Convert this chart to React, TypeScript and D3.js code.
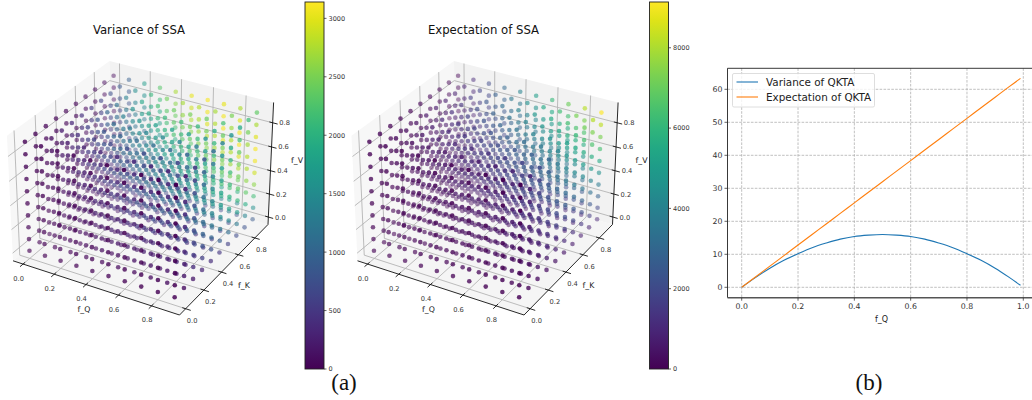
import React from "react";
import * as d3 from "d3";

// lattice of the two scatter cubes
const latticeQ = [0, 0.1, 0.2, 0.3, 0.4, 0.5, 0.6, 0.7, 0.8, 0.9];
const latticeK = [0, 0.1, 0.2, 0.3, 0.4, 0.5, 0.6, 0.7, 0.8, 0.9];
const latticeV = [0, 0.1, 0.2, 0.3, 0.4, 0.5, 0.6, 0.7, 0.8, 0.9];
const cubeTicks = [0, 0.2, 0.4, 0.6, 0.8];

// The cubes hold 1000 dots each, too dense to read one by one. Colours are read
// on the back wall (f_K = 0.9) and along f_K, then combined per dot.
// variance on the back wall: rows f_Q, columns f_V
const varianceBackWall = [
  [5, 10, 15, 20, 30, 35, 40, 50, 60, 70],
  [100, 200, 300, 390, 490, 580, 670, 760, 850, 930],
  [200, 390, 580, 760, 930, 1100, 1260, 1410, 1560, 1700],
  [300, 580, 850, 1100, 1340, 1560, 1770, 1960, 2130, 2300],
  [390, 760, 1100, 1410, 1700, 1960, 2190, 2400, 2580, 2730],
  [500, 950, 1360, 1720, 2050, 2330, 2560, 2760, 2910, 3020],
  [590, 1110, 1580, 1980, 2320, 2600, 2820, 2970, 3070, 3100],
  [680, 1270, 1790, 2210, 2560, 2820, 2990, 3080, 3090, 3020],
  [770, 1430, 1980, 2420, 2750, 2970, 3080, 3090, 2990, 2770],
  [860, 1570, 2150, 2600, 2900, 3070, 3100, 2990, 2740, 2360],
];
const varianceAlongK = [0, 0.12, 0.24, 0.36, 0.47, 0.58, 0.69, 0.8, 0.9, 1];

const expectationAlongQ = [0, 1000, 2050, 3050, 4050, 5100, 6100, 7100, 8150, 9140];
const expectationAlongK = [0, 0.11, 0.22, 0.33, 0.44, 0.56, 0.67, 0.78, 0.89, 1];
const expectationAlongV = [0.1, 0.2, 0.3, 0.4, 0.5, 0.6, 0.7, 0.8, 0.9, 1];

const varianceMax = 3140;
const expectationMax = 9140;
const varianceBarTicks = [0, 500, 1000, 1500, 2000, 2500, 3000];
const expectationBarTicks = [0, 2000, 4000, 6000, 8000];

// QKTA curves
const qktaQ = [0, 0.05, 0.1, 0.15, 0.2, 0.25, 0.3, 0.35, 0.4, 0.45, 0.5, 0.55, 0.6, 0.65, 0.7, 0.75, 0.8, 0.85, 0.9, 0.95, 0.99];
const qktaVariance = [0, 3.0, 5.8, 8.2, 10.2, 12.0, 13.4, 14.6, 15.4, 15.8, 16.0, 15.8, 15.4, 14.6, 13.4, 12.0, 10.2, 8.2, 5.8, 3.0, 0.6];
const qktaExpectation = [0, 3.2, 6.4, 9.6, 12.8, 16.0, 19.2, 22.4, 25.6, 28.8, 32.0, 35.2, 38.4, 41.6, 44.8, 48.0, 51.2, 54.4, 57.6, 60.8, 63.3];
const qktaXTicks = [0, 0.2, 0.4, 0.6, 0.8, 1];
const qktaYTicks = [0, 10, 20, 30, 40, 50, 60];

const FONT = "DejaVu Sans";

// mplot3d style camera, elev 30 azim -60
const lim = [-0.045, 0.945];
const paneMin = lim[0] - 0.99 / 48;
const paneMax = lim[1] + 0.99 / 48;
const aspect = [1.1429, 1.1429, 0.8572];
const elev = (30 * Math.PI) / 180;
const azim = (-60 * Math.PI) / 180;
const dist = 10;

type V3 = [number, number, number];
const sub = (a: V3, b: V3): V3 => [a[0] - b[0], a[1] - b[1], a[2] - b[2]];
const dot = (a: V3, b: V3) => a[0] * b[0] + a[1] * b[1] + a[2] * b[2];
const cross = (a: V3, b: V3): V3 => [a[1] * b[2] - a[2] * b[1], a[2] * b[0] - a[0] * b[2], a[0] * b[1] - a[1] * b[0]];
const unit = (a: V3): V3 => {
  const n = Math.sqrt(dot(a, a));
  return [a[0] / n, a[1] / n, a[2] / n];
};
const center: V3 = [aspect[0] / 2, aspect[1] / 2, aspect[2] / 2];
const eye: V3 = [
  center[0] + dist * Math.cos(elev) * Math.cos(azim),
  center[1] + dist * Math.cos(elev) * Math.sin(azim),
  center[2] + dist * Math.sin(elev),
];
const w = unit(sub(eye, center));
const u = unit(cross([0, 0, 1], w));
const v = cross(w, u);

function raw(q: number, k: number, f: number) {
  const span = lim[1] - lim[0];
  const p: V3 = [
    ((q - lim[0]) / span) * aspect[0],
    ((k - lim[0]) / span) * aspect[1],
    ((f - lim[0]) / span) * aspect[2],
  ];
  const d = sub(p, eye);
  const depth = -dot(w, d);
  return { x: dot(u, d) / depth, y: dot(v, d) / depth, depth };
}

const screenX = d3
  .scaleLinear()
  .domain([raw(paneMin, paneMin, paneMin).x, raw(paneMax, paneMax, paneMin).x])
  .range([13, 268]);
const screenY = d3
  .scaleLinear()
  .domain([raw(paneMax, paneMin, paneMin).y, raw(paneMin, paneMax, paneMax).y])
  .range([315, 61]);

const pt = (q: number, k: number, f: number): [number, number] => {
  const r = raw(q, k, f);
  return [screenX(r.x), screenY(r.y)];
};
const path3 = (pts: V3[], close = false) =>
  d3.line()(pts.map((p) => pt(p[0], p[1], p[2]))) + (close ? "Z" : "");

type Dot = { x: number; y: number; depth: number; value: number };
function buildDots(valueAt: (i: number, j: number, l: number) => number): Dot[] {
  const dots: Dot[] = [];
  latticeQ.forEach((q, i) =>
    latticeK.forEach((k, j) =>
      latticeV.forEach((f, l) => {
        const r = raw(q, k, f);
        dots.push({ x: screenX(r.x), y: screenY(r.y), depth: r.depth, value: valueAt(i, j, l) });
      })
    )
  );
  return dots.sort((a, b) => b.depth - a.depth);
}

const varianceDots = buildDots((i, j, l) => varianceBackWall[i][l] * varianceAlongK[j]);
const expectationDots = buildDots((i, j, l) => expectationAlongQ[i] * expectationAlongK[j] * expectationAlongV[l]);

const GRID = "#b4b4b4";

function Cube({ dx, title, dots, max, barTicks, id }: { dx: number; title: string; dots: Dot[]; max: number; barTicks: number[]; id: string }) {
  const color = d3.scaleSequential(d3.interpolateViridis).domain([0, max]);
  const depthExtent = d3.extent(dots, (d) => d.depth) as [number, number];
  const alpha = d3.scaleLinear().domain(depthExtent).range([1, 0.3]);
  const bar = d3.scaleLinear().domain([0, max]).range([369, 2]);
  const a = paneMin;
  const b = paneMax;
  const fmt = d3.format(".1f");
  const stops = d3.range(0, 1.0001, 0.05);
  return (
    <g transform={`translate(${dx},0)`}>
      <text x={139} y={34} textAnchor="middle" fontFamily={FONT} fontSize={11.7} fill="#111">{title}</text>

      {/* panes */}
      <path d={path3([[a, a, a], [b, a, a], [b, b, a], [a, b, a]], true)} fill="#f5f5f5" />
      <path d={path3([[a, a, a], [a, b, a], [a, b, b], [a, a, b]], true)} fill="#f7f7f7" />
      <path d={path3([[a, b, a], [b, b, a], [b, b, b], [a, b, b]], true)} fill="#f2f2f2" />

      {/* grid */}
      <g fill="none" stroke={GRID} strokeWidth={0.9}>
        {cubeTicks.map((t) => (
          <g key={t}>
            <path d={path3([[t, a, a], [t, b, a], [t, b, b]])} />
            <path d={path3([[b, t, a], [a, t, a], [a, t, b]])} />
            <path d={path3([[a, a, t], [a, b, t], [b, b, t]])} />
          </g>
        ))}
      </g>

      {/* axes */}
      <g fill="none" stroke="#111" strokeWidth={0.9}>
        <path d={path3([[a, a, a], [b, a, a]])} />
        <path d={path3([[b, a, a], [b, b, a]])} />
        <path d={path3([[b, b, a], [b, b, b]])} />
        {cubeTicks.map((t) => (
          <g key={t}>
            <path d={path3([[t, a + 0.02, a], [t, a - 0.03, a]])} />
            <path d={path3([[b - 0.02, t, a], [b + 0.03, t, a]])} />
            <path d={path3([[b - 0.02, b, t], [b + 0.03, b, t]])} />
          </g>
        ))}
      </g>

      {/* dots */}
      <g>
        {dots.map((d, i) => (
          <circle key={i} cx={d.x} cy={d.y} r={2.3} fill={color(d.value)} fillOpacity={alpha(d.depth)} />
        ))}
      </g>

      {/* tick labels */}
      <g fontFamily={FONT} fontSize={6.7} fill="#333" textAnchor="middle">
        {cubeTicks.map((t) => {
          const px = pt(t, a, a);
          const py = pt(b, t, a);
          const pz = pt(b, b, t);
          return (
            <g key={t}>
              <text x={px[0] - 4.5} y={px[1] + 16.5}>{fmt(t)}</text>
              <text x={py[0] + 6.5} y={py[1] + 14}>{fmt(t)}</text>
              <text x={pz[0] + 12} y={pz[1] + 2.5}>{fmt(t)}</text>
            </g>
          );
        })}
      </g>
      <g fontFamily={FONT} fontSize={7.8} fill="#222" textAnchor="middle">
        <text x={84} y={312}>f_Q</text>
        <text x={244} y={288}>f_K</text>
        <text x={297} y={163}>f_V</text>
      </g>

      {/* colour bar */}
      <defs>
        <linearGradient id={id} x1="0" y1="1" x2="0" y2="0">
          {stops.map((s) => (
            <stop key={s} offset={s} stopColor={d3.interpolateViridis(s)} />
          ))}
        </linearGradient>
      </defs>
      <rect x={305} y={2} width={19} height={367} fill={`url(#${id})`} stroke="#222" strokeWidth={0.9} />
      <g fontFamily={FONT} fontSize={6.5} fill="#333">
        {barTicks.map((t) => (
          <g key={t}>
            <line x1={324} x2={326.5} y1={bar(t)} y2={bar(t)} stroke="#222" strokeWidth={0.7} />
            <text x={328.5} y={bar(t) + 2.4}>{t}</text>
          </g>
        ))}
      </g>
    </g>
  );
}

function QktaPlot() {
  const x = d3.scaleLinear().domain([0, 1]).range([741.7, 1023.3]);
  const y = d3.scaleLinear().domain([0, 60]).range([287.3, 89.3]);
  const left = 727.5;
  const right = 1034;
  const top = 68.3;
  const bottom = 297.7;
  const curve = (vals: number[]) =>
    d3
      .line<number>()
      .x((_, i) => x(qktaQ[i]))
      .y((d) => y(d))
      .curve(d3.curveCatmullRom)(vals) as string;
  return (
    <g>
      <g stroke="#b0b0b0" strokeWidth={0.8} strokeDasharray="2.6 1.3">
        {qktaXTicks.map((t) => (
          <line key={t} x1={x(t)} x2={x(t)} y1={top} y2={bottom} />
        ))}
        {qktaYTicks.map((t) => (
          <line key={t} x1={left} x2={right} y1={y(t)} y2={y(t)} />
        ))}
      </g>
      <path d={curve(qktaVariance)} fill="none" stroke="#1f77b4" strokeWidth={1.1} />
      <path d={curve(qktaExpectation)} fill="none" stroke="#ff7f0e" strokeWidth={1.1} />
      <g stroke="#222" strokeWidth={0.9} fill="none">
        <line x1={left} x2={left} y1={top} y2={bottom} />
        <line x1={left} x2={right} y1={top} y2={top} />
      </g>
      <line x1={left} x2={right} y1={bottom} y2={bottom} stroke="#555" strokeWidth={1.6} />
      <g fontFamily={FONT} fontSize={7.8} fill="#333">
        {qktaXTicks.map((t) => (
          <g key={t}>
            <line x1={x(t)} x2={x(t)} y1={bottom} y2={bottom + 3} stroke="#222" strokeWidth={0.7} />
            <text x={x(t)} y={bottom + 11.5} textAnchor="middle">{t.toFixed(1)}</text>
          </g>
        ))}
        {qktaYTicks.map((t) => (
          <g key={t}>
            <line x1={left - 3} x2={left} y1={y(t)} y2={y(t)} stroke="#222" strokeWidth={0.7} />
            <text x={left - 5} y={y(t) + 2.8} textAnchor="end">{t}</text>
          </g>
        ))}
      </g>
      <text x={881.5} y={322} textAnchor="middle" fontFamily={FONT} fontSize={8} fill="#222">f_Q</text>

      {/* legend */}
      <rect x={732.5} y={73.5} width={142} height={33.5} rx={1.5} fill="#fff" fillOpacity={0.8} stroke="#d6d6d6" strokeWidth={0.8} />
      <line x1={736.5} x2={758} y1={82} y2={82} stroke="#1f77b4" strokeWidth={1.1} />
      <line x1={736.5} x2={758} y1={97} y2={97} stroke="#ff7f0e" strokeWidth={1.1} />
      <g fontFamily={FONT} fontSize={10.4} fill="#222">
        <text x={766} y={85.8}>Variance of QKTA</text>
        <text x={766} y={101}>Expectation of QKTA</text>
      </g>
    </g>
  );
}

export default function App() {
  return (
    <svg
      width={1032}
      height={400}
      viewBox="0 0 1032 400"
      style={{ position: "absolute", left: 0, top: 0, background: "#fff" }}
    >
      <Cube dx={0} title="Variance of SSA" dots={varianceDots} max={varianceMax} barTicks={varianceBarTicks} id="barVariance" />
      <Cube dx={344.5} title="Expectation of SSA" dots={expectationDots} max={expectationMax} barTicks={expectationBarTicks} id="barExpectation" />
      <QktaPlot />
      <g fontFamily="Liberation Serif" fontSize={23} fill="#111" textAnchor="middle">
        <text x={344} y={390}>(a)</text>
        <text x={869} y={390}>(b)</text>
      </g>
    </svg>
  );
}
